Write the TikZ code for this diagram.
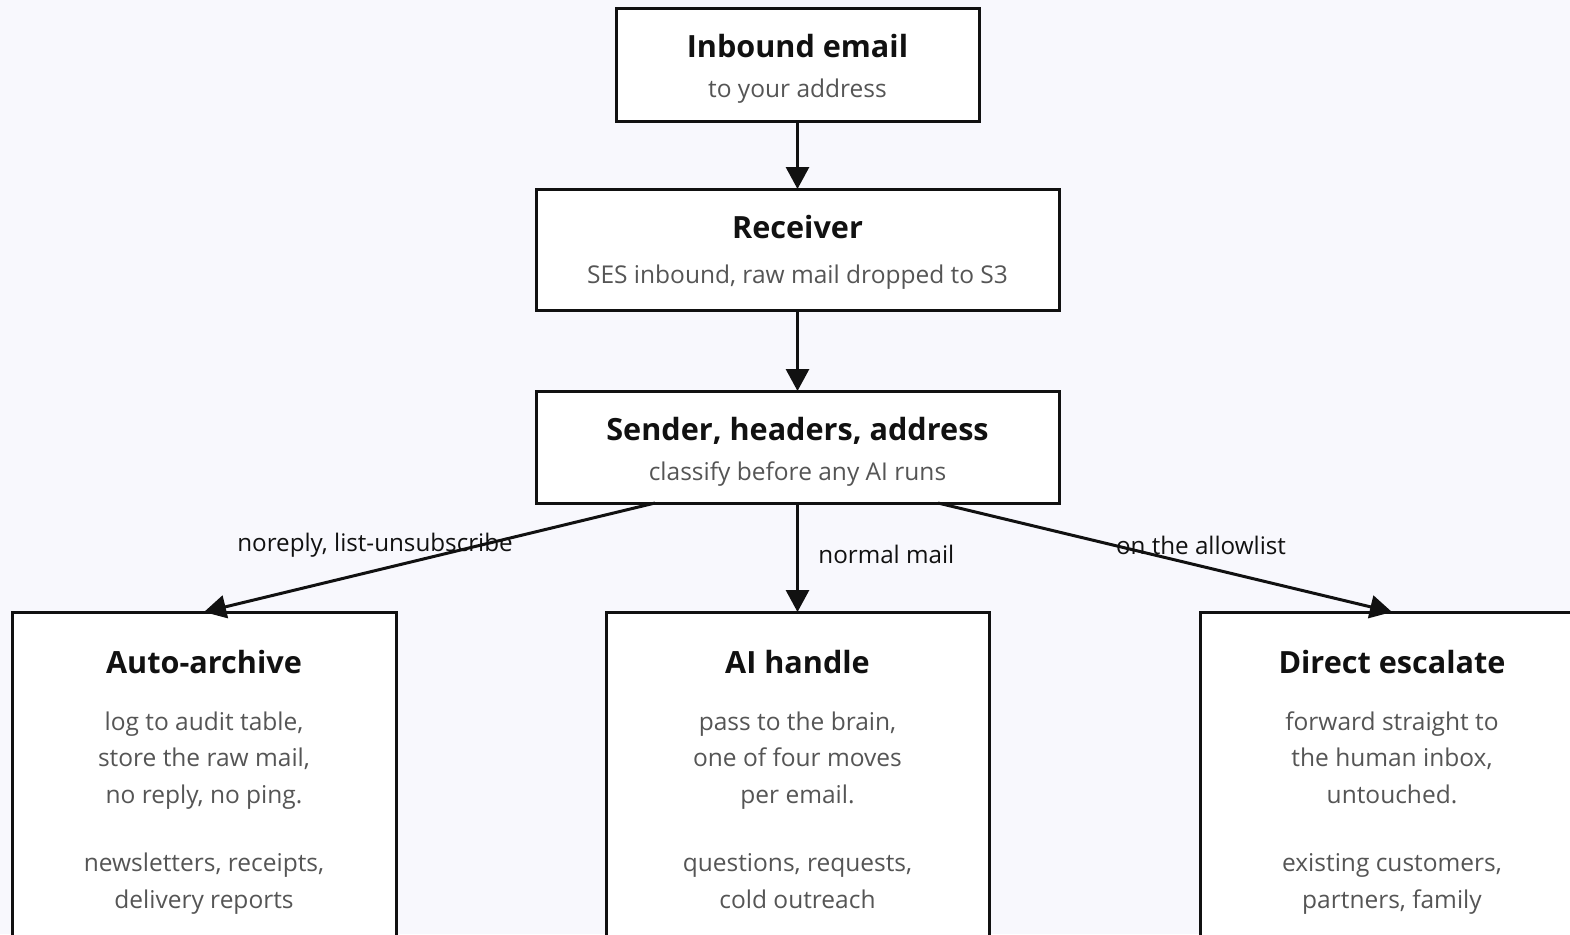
\documentclass[tikz,border=0pt]{standalone}
\usepackage{fontspec}
\setmainfont{Open Sans}
\usetikzlibrary{arrows.meta,calc}
\definecolor{bgcol}{HTML}{F8F8FD}
\definecolor{ink}{HTML}{111111}
\definecolor{soft}{HTML}{555555}
\tikzset{
  box/.style={draw=ink, fill=white, line width=1.5pt, inner sep=0pt, outer sep=0pt},
  ttl/.style={font=\fontsize{15.3}{18}\selectfont\bfseries, text=ink, anchor=base, inner sep=0pt},
  sub/.style={font=\fontsize{12.25}{18.25}\selectfont, text=soft, anchor=base, inner sep=0pt, align=center},
  elabel/.style={font=\fontsize{12.1}{14}\selectfont, text=ink, inner sep=0pt},
  flow/.style={draw=ink, line width=1.5pt, -{Triangle[length=11pt,width=11.5pt]}}
}
\begin{document}
\begin{tikzpicture}[x=0.5pt,y=-0.5pt]
\useasboundingbox (0,0) rectangle (1570,934);
\clip (0,0) rectangle (1570,934);
\fill[bgcol] (0,0) rectangle (1570,934);

% upper chain
\node[box, minimum width=181.5pt, minimum height=56.5pt] (inb) at (797.5,64.5) {};
\node[box, minimum width=261.5pt, minimum height=60.5pt] (rcv) at (797.5,249.5) {};
\node[box, minimum width=261.5pt, minimum height=56pt] (snd) at (797.5,447) {};

\node[ttl] (inbT) at ($(inb.north)+(0,49)$) {Inbound email};
\node[sub] (inbS) at ($(inb.north)+(0,89)$) {to your address};
\node[ttl] (rcvT) at ($(rcv.north)+(0,49)$) {Receiver};
\node[sub] (rcvS) at ($(rcv.north)+(0,94)$) {SES inbound, raw mail dropped to S3};
\node[ttl] (sndT) at ($(snd.north)+(0,49)$) {Sender, headers, address};
\node[sub] (sndS) at ($(snd.north)+(0,89)$) {classify before any AI runs};

% three outcomes (they run past the lower edge)
\node[box, minimum width=192pt, minimum height=200pt, anchor=north] (arc) at (204,612) {};
\node[box, minimum width=191.5pt, minimum height=200pt, anchor=north] (ai) at (797.5,612) {};
\node[box, minimum width=192pt, minimum height=200pt, anchor=north] (esc) at (1392,612) {};

% multi-line nodes: base anchor sits on the last line
\node[ttl] (arcT) at ($(arc.north)+(0,61)$) {Auto-archive};
\node[sub] (arcA) at ($(arc.north)+(0,191)$) {log to audit table,\\store the raw mail,\\no reply, no ping.};
\node[sub] (arcB) at ($(arc.north)+(0,296)$) {newsletters, receipts,\\delivery reports};

\node[ttl] (aiT) at ($(ai.north)+(0,61)$) {AI handle};
\node[sub] (aiA) at ($(ai.north)+(0,191)$) {pass to the brain,\\one of four moves\\per email.};
\node[sub] (aiB) at ($(ai.north)+(0,296)$) {questions, requests,\\cold outreach};

\node[ttl] (escT) at ($(esc.north)+(0,61)$) {Direct escalate};
\node[sub] (escA) at ($(esc.north)+(0,191)$) {forward straight to\\the human inbox,\\untouched.};
\node[sub] (escB) at ($(esc.north)+(0,296)$) {existing customers,\\partners, family};

% connectors
\draw[flow] (inb.south) -- (rcv.north);
\draw[flow] (rcv.south) -- (snd.north);
\coordinate (sL) at ($(snd.south)+(-142.5,0)$);
\coordinate (sR) at ($(snd.south)+(140.5,0)$);
\draw[flow] (sL) -- (arc.north);
\draw[flow] (snd.south) -- (ai.north);
\draw[flow] (sR) -- (esc.north);

\node[elabel] (lblL) at (375,545) {noreply, list-unsubscribe};
\node[elabel, anchor=west] (lblM) at (818,554) {normal mail};
\node[elabel] (lblR) at (1201,545) {on the allowlist};
\end{tikzpicture}
\end{document}
